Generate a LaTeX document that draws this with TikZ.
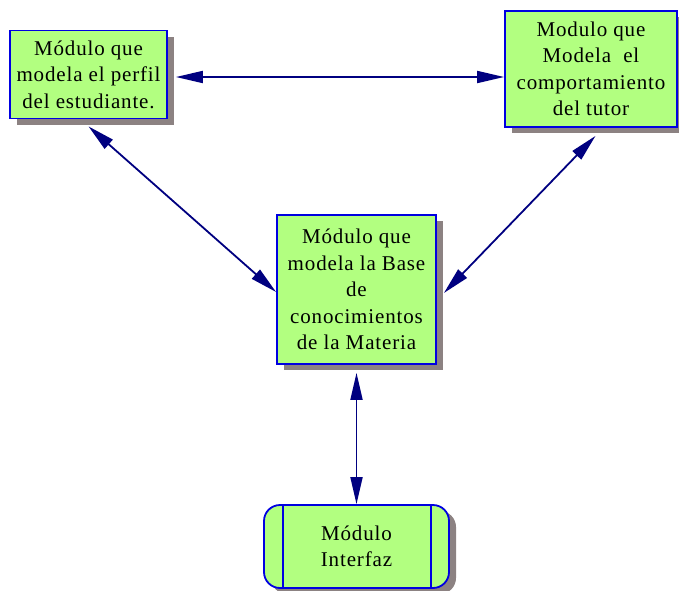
\documentclass[tikz,border=0pt]{standalone}
\usepackage{fontspec}
\setmainfont[LetterSpace=4]{Liberation Serif}
\usetikzlibrary{arrows.meta,shadows,calc}
\definecolor{boxfill}{RGB}{178,255,128}
\definecolor{boxline}{RGB}{0,0,225}
\definecolor{arrowc}{RGB}{0,0,128}
\definecolor{shadowc}{RGB}{140,130,130}
\tikzset{
  modbox/.style={draw=boxline, line width=1.8pt, fill=boxfill, inner sep=0pt,
    align=center, font=\fontsize{21pt}{26.5pt}\selectfont,
    drop shadow={shadow xshift=7pt, shadow yshift=-6pt, fill=shadowc, opacity=1}},
  conn/.style={draw=arrowc, line width=1.8pt,
    {Triangle[length=27pt,width=12pt]}-{Triangle[length=27pt,width=12pt]}},
  sepline/.style={draw=boxline, line width=1.8pt}
}
\begin{document}
\begin{tikzpicture}[x=1pt,y=-1pt]
\useasboundingbox (0,0) rectangle (679,590);
\node[modbox, minimum width=157pt, minimum height=88pt] (b1) at (88.5,74.5)
  {Módulo que\\modela el perfil\\del estudiante.};
\node[modbox, minimum width=172pt, minimum height=116pt] (b2) at (591,69)
  {Modulo que\\Modela\ \ el\\comportamiento\\del tutor};
\node[modbox, minimum width=159pt, minimum height=149pt] (b3) at (356.5,289.5)
  {Módulo que\\modela la Base\\de\\conocimientos\\de la Materia};
\node[modbox, rounded corners=16pt, minimum width=185pt, minimum height=83pt] (b4) at (356.5,546.5)
  {Módulo\\Interfaz};
\draw[sepline] ([xshift=20pt]b4.north west) -- ([xshift=20pt]b4.south west);
\draw[sepline] ([xshift=-19pt]b4.north east) -- ([xshift=-19pt]b4.south east);
\draw[conn] ([xshift=8pt,yshift=-2.5pt]b1.east) -- ([yshift=-8pt]b2.west);
\draw[conn] ([yshift=-7pt]b1.south) -- ([yshift=-2.5pt]b3.west);
\draw[conn] ([xshift=4.5pt,yshift=-8pt]b2.south) -- ([xshift=7pt,yshift=-3.5pt]b3.east);
\draw[conn] ([yshift=-8pt]b3.south) -- (b4.north);
\end{tikzpicture}
\end{document}
